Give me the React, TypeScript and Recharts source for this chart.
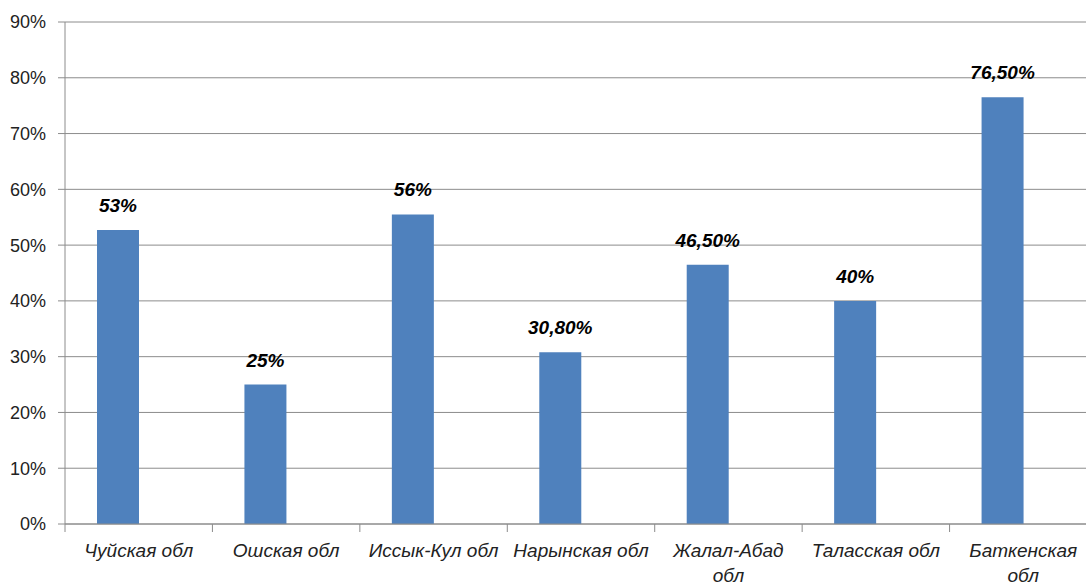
import React from "react";
import { BarChart, Bar, XAxis, YAxis, CartesianGrid, LabelList } from "recharts";

const categories = [
  "Чуйская обл",
  "Ошская обл",
  "Иссык-Кул обл",
  "Нарынская обл",
  "Жалал-Абад обл",
  "Таласская обл",
  "Баткенская обл",
];
const values = [52.7, 25, 55.5, 30.8, 46.5, 40, 76.5];
const valueLabels = ["53%", "25%", "56%", "30,80%", "46,50%", "40%", "76,50%"];
const yTicks = [0, 10, 20, 30, 40, 50, 60, 70, 80, 90];

const data = categories.map((name, i) => ({ name, value: values[i], blank: null as number | null }));

const FONT = "'Liberation Sans', Arial, sans-serif";
const GRID = "#8c8c8c";
const BAR = "#4f81bd";
const TEXT = "#222222";

function wrapLabel(s: string): string[] {
  if (s.length <= 13) return [s];
  const k = s.lastIndexOf(" ");
  return k > 0 ? [s.slice(0, k), s.slice(k + 1)] : [s];
}

const XTick = (props: any) => {
  const { x, y, payload, index, width } = props;
  const half =
    payload && typeof payload.offset === "number" && payload.offset > 0
      ? payload.offset
      : width / categories.length / 2;
  const lines = wrapLabel(String(payload.value));
  return (
    <g>
      <line x1={x - half} x2={x - half} y1={y} y2={y + 8} stroke={GRID} />
      {index === categories.length - 1 && (
        <line x1={x + half} x2={x + half} y1={y} y2={y + 8} stroke={GRID} />
      )}
      <text
        x={x}
        y={y + 33}
        textAnchor="middle"
        fontFamily={FONT}
        fontSize={19}
        fontStyle="italic"
        fill={TEXT}
      >
        {lines.map((l, i) => (
          <tspan key={i} x={x} dy={i === 0 ? 0 : 25}>
            {l}
          </tspan>
        ))}
      </text>
    </g>
  );
};

const ValueLabel = (props: any) => {
  const { x, y, width, index } = props;
  return (
    <text
      x={x + width / 2}
      y={y - 18}
      textAnchor="middle"
      fontFamily={FONT}
      fontSize={19}
      fontWeight="bold"
      fontStyle="italic"
      fill="#000"
    >
      {valueLabels[index]}
    </text>
  );
};

export default function App() {
  return (
    <div style={{ position: "absolute", left: 0, top: 0, width: 1086, height: 583, overflow: "hidden", background: "#fff" }}>
      <BarChart
        width={1097}
        height={583}
        data={data}
        margin={{ top: 22, right: 0, bottom: 0, left: 0 }}
        barGap={0}
        barSize={42}
      >
        <CartesianGrid vertical={false} stroke={GRID} strokeWidth={1} />
        <XAxis
          dataKey="name"
          interval={0}
          height={59}
          axisLine={{ stroke: GRID }}
          tickLine={false}
          tickSize={0}
          tickMargin={0}
          tick={<XTick />}
        />
        <YAxis
          domain={[0, 90]}
          ticks={yTicks}
          width={65}
          tickFormatter={(v: number) => `${v}%`}
          axisLine={{ stroke: GRID }}
          tickLine={{ stroke: GRID }}
          tickSize={7}
          tickMargin={12}
          tick={{ fontFamily: FONT, fontSize: 18, fill: TEXT }}
        />
        <Bar dataKey="value" fill={BAR} isAnimationActive={false}>
          <LabelList dataKey="value" content={<ValueLabel />} />
        </Bar>
        <Bar dataKey="blank" fill={BAR} isAnimationActive={false} />
      </BarChart>
    </div>
  );
}
